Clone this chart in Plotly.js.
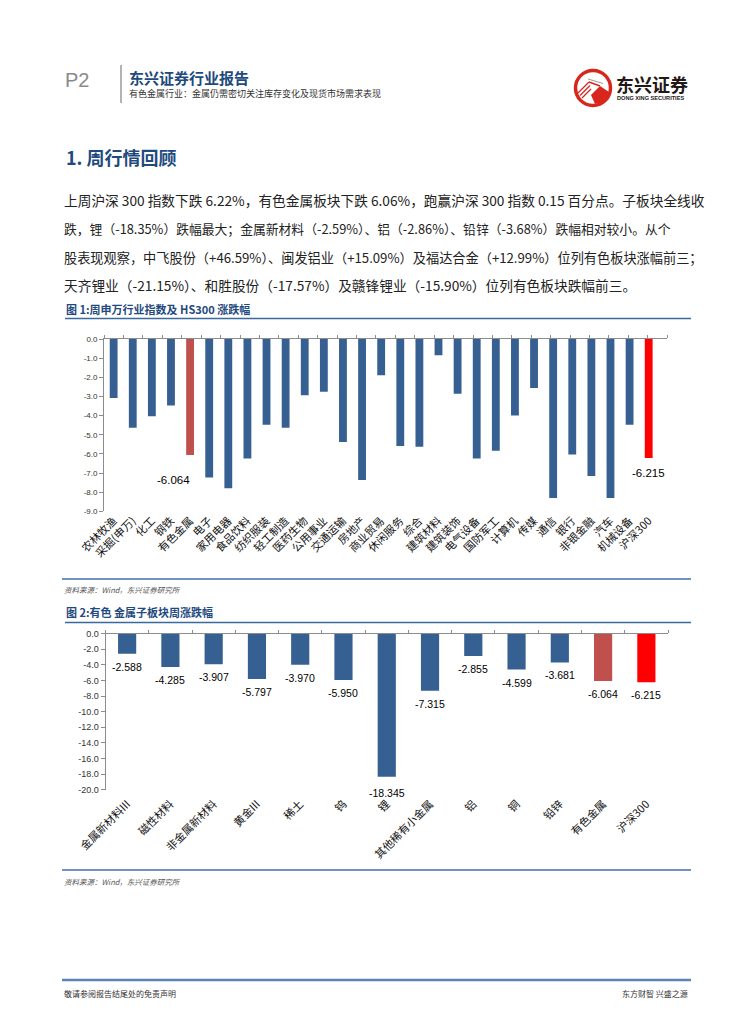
<!DOCTYPE html>
<html><head><meta charset="utf-8">
<script src="https://cdn.plot.ly/plotly-3.0.1.min.js"></script>
<style>html,body{margin:0;padding:0;background:#fff}#chart{width:755px;height:1024px}</style>
</head><body><div id="chart"></div>
<script>
// ---------- data ----------
const industries = ['农林牧渔','采掘(申万)','化工','钢铁','有色金属','电子','家用电器','食品饮料','纺织服装','轻工制造','医药生物','公用事业','交通运输','房地产','商业贸易','休闲服务','综合','建筑材料','建筑装饰','电气设备','国防军工','计算机','传媒','通信','银行','非银金融','汽车','机械设备','沪深300'];
const industryChange = [-3.08,-4.63,-4.04,-3.48,-6.064,-7.23,-7.80,-6.24,-4.48,-4.63,-2.94,-2.75,-5.38,-7.37,-1.90,-5.59,-5.63,-0.85,-2.86,-6.24,-5.84,-3.99,-2.56,-8.31,-6.03,-7.16,-8.31,-4.48,-6.215];
const chart1TickLabels = ['0.0','-1.0','-2.0','-3.0','-4.0','-5.0','-6.0','-7.0','-8.0','-9.0'];
const chart1Labelled = ['有色金属','沪深300'];

const subSectors = ['金属新材料III','磁性材料','非金属新材料','黄金III','稀土','钨','锂','其他稀有小金属','铝','铜','铅锌','有色金属','沪深300'];
const subSectorChange = [-2.588,-4.285,-3.907,-5.797,-3.970,-5.950,-18.345,-7.315,-2.855,-4.599,-3.681,-6.064,-6.215];
const chart2TickLabels = ['0.0','-2.0','-4.0','-6.0','-8.0','-10.0','-12.0','-14.0','-16.0','-18.0','-20.0'];

const chart1Title = '图 1:周申万行业指数及 HS300 涨跌幅';
const chart2Title = '图 2:有色 金属子板块周涨跌幅';
const sourceText = '资料来源：Wind，东兴证券研究所';
const paragraphLines = [
  '上周沪深 300 指数下跌 6.22%，有色金属板块下跌 6.06%，跑赢沪深 300 指数 0.15 百分点。子板块全线收',
  '跌，锂（-18.35%）跌幅最大；金属新材料（-2.59%）、铝（-2.86%）、铅锌（-3.68%）跌幅相对较小。从个',
  '股表现观察，中飞股份（+46.59%）、闽发铝业（+15.09%）及福达合金（+12.99%）位列有色板块涨幅前三；',
  '天齐锂业（-21.15%）、和胜股份（-17.57%）及赣锋锂业（-15.90%）位列有色板块跌幅前三。'
];

// ---------- helpers ----------
const W = 755, H = 1024;
const px = x => x / W;
const py = y => 1 - y / H;
const CJK = '"Noto Sans CJK SC", "Noto Sans", sans-serif';
const SANS = '"Liberation Sans", Arial, sans-serif';
const BLUE = '#376092', RED1 = '#C0504D', RED2 = '#FF0000';
const colorFor = name => name === '有色金属' ? RED1 : (name === '沪深300' ? RED2 : BLUE);

const traces = [
  {type:'bar', x:industries, y:industryChange, xaxis:'x', yaxis:'y', width:0.41,
   marker:{color:industries.map(colorFor)}, hoverinfo:'x+y', showlegend:false},
  {type:'bar', x:subSectors, y:subSectorChange, xaxis:'x2', yaxis:'y2', width:0.42,
   marker:{color:subSectors.map(colorFor)}, hoverinfo:'x+y', showlegend:false},
  {type:'scatter', x:[], y:[], xaxis:'x3', yaxis:'y', showlegend:false, hoverinfo:'skip'},
  {type:'scatter', x:[], y:[], xaxis:'x4', yaxis:'y2', showlegend:false, hoverinfo:'skip'}
];

const AXC = '#8c8c8c';
const yBase = {showline:true, linecolor:AXC, linewidth:1, ticks:'outside', ticklen:4, tickcolor:AXC,
  showgrid:false, zeroline:false, tickmode:'array', fixedrange:true};
const xLabelAxis = {type:'category', showline:false, ticks:'', showgrid:false, zeroline:false,
  tickangle:-45, tickfont:{family:CJK, size:11, color:'#111'}, fixedrange:true};
const xTopAxis = n => ({side:'top', showline:true, linecolor:AXC, linewidth:1, ticks:'outside', ticklen:3,
  tickcolor:AXC, showticklabels:false, showgrid:false, zeroline:false, tickmode:'linear', tick0:-0.5, dtick:1,
  range:[-0.5, n - 0.5], fixedrange:true});

const annotations = [];
const A = (x, y, text, font, extra) => annotations.push(Object.assign({xref:'paper', yref:'paper', x:px(x), y:py(y),
  text, showarrow:false, xanchor:'left', yanchor:'middle', font}, extra || {}));

// header
A(63, 80, 'P2', {family:SANS, size:20, color:'#8a8a8a'});
A(127, 77, '<b>东兴证券行业报告</b>', {family:CJK, size:15, color:'#1F4A7E'});
A(127, 93, '有色金属行业：金属仍需密切关注库存变化及现货市场需求表现', {family:CJK, size:9, color:'#333'});
A(614, 84, '<b>东兴证券</b>', {family:CJK, size:18, color:'#231815'});
A(615, 97.5, '<b>DONG XING SECURITIES</b>', {family:SANS, size:5.6, color:'#231815'});

// section
A(64, 157, '<b>1. 周行情回顾</b>', {family:CJK, size:18, color:'#1F4A7E'});
const lineY = [200, 228.5, 257, 285];
const lineSize = [13.7, 12.8, 13.2, 13.7];
paragraphLines.forEach((t, i) => A(62, lineY[i], t, {family:CJK, size:lineSize[i], color:'#222'}));

// chart titles & sources
A(64, 309, '<b>' + chart1Title + '</b>', {family:CJK, size:11, color:'#1F4A7E'});
A(64, 611.5, '<b>' + chart2Title + '</b>', {family:CJK, size:11, color:'#1F4A7E'});
A(62, 589, '<i>' + sourceText + '</i>', {family:CJK, size:7.5, color:'#555'});
A(62, 881, '<i>' + sourceText + '</i>', {family:CJK, size:7.5, color:'#555'});

// footer
A(62, 993, '敬请参阅报告结尾处的免责声明', {family:CJK, size:8, color:'#333'});
A(690, 993, '东方财智 兴盛之源', {family:CJK, size:8, color:'#333'}, {xanchor:'right'});

// chart 1 data labels
const c1Offsets = {'有色金属':{xshift:-17, yshift:-25}, '沪深300':{xshift:0, yshift:-15}};
chart1Labelled.forEach(name => {
  const i = industries.indexOf(name);
  annotations.push(Object.assign({xref:'x', yref:'y', x:name, y:industryChange[i], text:industryChange[i].toFixed(3),
    showarrow:false, xanchor:'center', yanchor:'middle', font:{family:SANS, size:11.5, color:'#000'}}, c1Offsets[name]));
});
// chart 2 data labels
subSectors.forEach((name, i) => {
  annotations.push({xref:'x2', yref:'y2', x:name, y:subSectorChange[i], text:subSectorChange[i].toFixed(3),
    showarrow:false, xanchor:'center', yanchor:'middle', yshift:(name === '锂' ? -16 : -13),
    font:{family:SANS, size:10.5, color:'#000'}});
});

// decorative shapes (rules, logo)
const L = (x0, y0, x1, y1, color, width) => ({type:'line', xref:'paper', yref:'paper', x0:px(x0), y0:py(y0), x1:px(x1), y1:py(y1), line:{color, width}});
const shapes = [
  L(121, 65, 121, 103, '#9a9a9a', 1.5),
  L(65, 318.5, 691, 318.5, '#3A6A9C', 1.5),
  L(65, 622.5, 691, 622.5, '#3A6A9C', 1.5),
  L(62, 579, 691, 579, '#7193BE', 2.2),
  L(62, 870, 691, 870, '#7193BE', 2.2),
  L(62, 980, 691, 980, '#5B83B5', 2.5),
  // logo
  {type:'circle', xref:'paper', yref:'paper', x0:px(575.5), x1:px(610.5), y0:py(105.5), y1:py(70.5), line:{color:'#D9261C', width:3.5}, fillcolor:'#fff'},
  {type:'path', xref:'paper', yref:'paper', line:{width:0}, fillcolor:'#D9261C',
   path:`M ${px(591)} ${py(95)} L ${px(600)} ${py(86)} L ${px(609)} ${py(92)} Q ${px(606)} ${py(103)} ${px(595)} ${py(104)} Z`},
  L(578, 93, 589, 82, '#D9261C', 1.2), L(580, 95.5, 590, 85.5, '#D9261C', 1.2), L(582, 98, 591, 89, '#D9261C', 1.2),
  L(589, 82, 600, 86, '#D9261C', 1.4), L(588, 79, 603, 83.5, '#9a9a9a', 1)
];

const layout = {
  width:W, height:H, margin:{l:0, r:0, t:0, b:0}, paper_bgcolor:'#fff', plot_bgcolor:'rgba(0,0,0,0)',
  showlegend:false, hovermode:'closest',
  xaxis:Object.assign({domain:[px(104.1), px(667.2)], anchor:'y'}, xLabelAxis),
  yaxis:Object.assign({domain:[py(511.3), py(339)], anchor:'x', range:[-9, 0],
    tickvals:chart1TickLabels.map(Number), ticktext:chart1TickLabels, tickfont:{family:SANS, size:8, color:'#333'}}, yBase),
  xaxis2:Object.assign({domain:[px(105.5), px(668)], anchor:'y2', ticklabelstandoff:5}, xLabelAxis),
  yaxis2:Object.assign({domain:[py(789.6), py(633.7)], anchor:'x2', range:[-20, 0],
    tickvals:chart2TickLabels.map(Number), ticktext:chart2TickLabels, tickfont:{family:SANS, size:9, color:'#333'}}, yBase),
  xaxis3:Object.assign({overlaying:'x', anchor:'y'}, xTopAxis(industries.length)),
  xaxis4:Object.assign({overlaying:'x2', anchor:'y2'}, xTopAxis(subSectors.length)),
  annotations, shapes
};

Plotly.newPlot('chart', traces, layout, {displayModeBar:false});
</script></body></html>
